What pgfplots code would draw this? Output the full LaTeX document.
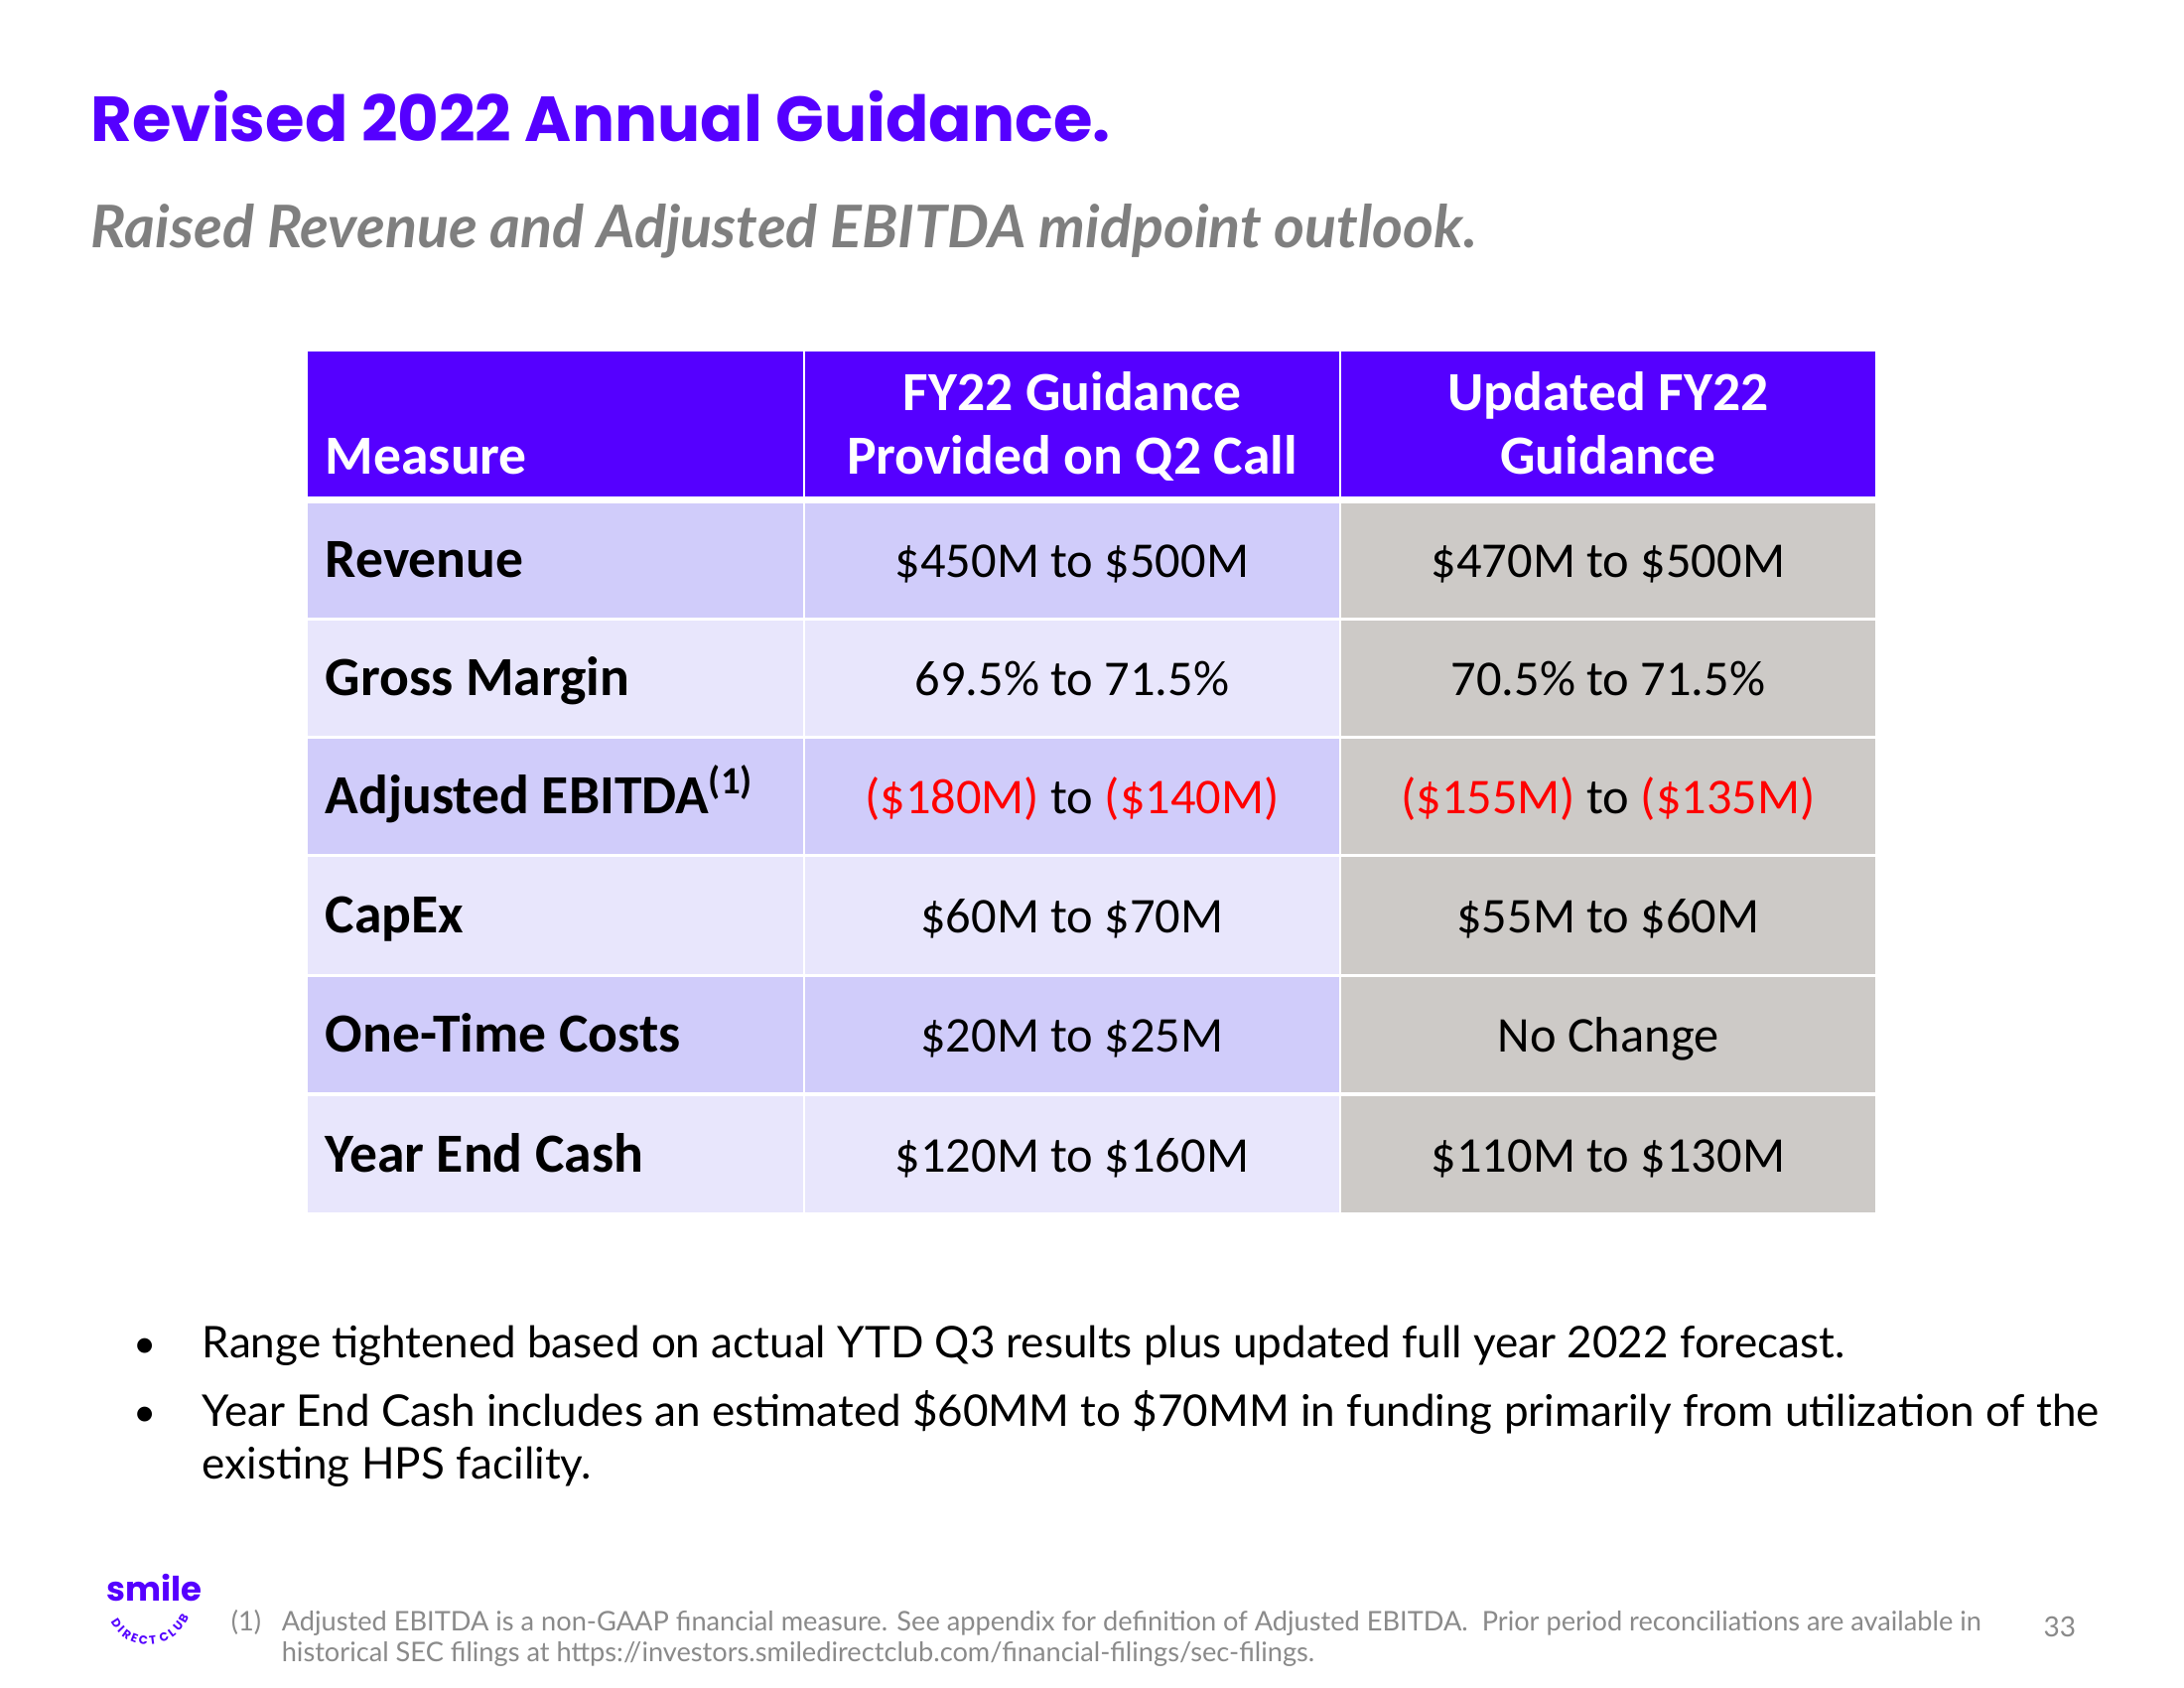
\documentclass[border=0pt]{standalone}
\usepackage{pgfplots}
\pgfplotsset{compat=1.18}
\usepackage{fontspec}
\setmainfont{Carlito}
\newfontfamily\poppins{Poppins}
\newfontfamily\lato{Lato}
\usetikzlibrary{decorations.text}
\definecolor{brand}{HTML}{5500FF}
\definecolor{rowA}{HTML}{D0CCFA}
\definecolor{rowB}{HTML}{E8E6FC}
\definecolor{greyc}{HTML}{CDCAC7}
\definecolor{subgrey}{HTML}{7F7F7F}
\definecolor{foot}{HTML}{8A8A8A}
\definecolor{redv}{HTML}{FF0000}
\begin{document}
\begin{tikzpicture}
\begin{axis}[scale only axis, width=550pt, height=425pt, xmin=0, xmax=2200, ymin=0, ymax=1700,
  y dir=reverse, hide axis, clip=false]
\fill[white] (axis cs:0,0) rectangle (axis cs:2200,1700);
% title
\node[anchor=base west, inner sep=0, text=brand] at (axis cs:91,143) {\poppins\bfseries\fontsize{16}{18}\selectfont Revised 2022 Annual Guidance.};
\node[anchor=base west, inner sep=0, text=subgrey] at (axis cs:91,250) {\lato\bfseries\itshape\fontsize{14.8}{17}\selectfont Raised Revenue and Adjusted EBITDA midpoint outlook.};
% header
\fill[brand] (axis cs:310,354) rectangle (axis cs:1889,500);
% rows
\fill[rowA] (axis cs:310,507) rectangle (axis cs:1350,622);
\fill[rowB] (axis cs:310,625) rectangle (axis cs:1350,741);
\fill[rowA] (axis cs:310,744) rectangle (axis cs:1350,860);
\fill[rowB] (axis cs:310,863) rectangle (axis cs:1350,981);
\fill[rowA] (axis cs:310,984) rectangle (axis cs:1350,1100);
\fill[rowB] (axis cs:310,1104) rectangle (axis cs:1350,1221);
\fill[greyc] (axis cs:1350,507) rectangle (axis cs:1889,622);
\fill[greyc] (axis cs:1350,625) rectangle (axis cs:1889,741);
\fill[greyc] (axis cs:1350,744) rectangle (axis cs:1889,860);
\fill[greyc] (axis cs:1350,863) rectangle (axis cs:1889,981);
\fill[greyc] (axis cs:1350,984) rectangle (axis cs:1889,1100);
\fill[greyc] (axis cs:1350,1104) rectangle (axis cs:1889,1221);
\draw[white, line width=0.7pt] (axis cs:810,354) -- (axis cs:810,1221);
\draw[white, line width=0.7pt] (axis cs:1350,354) -- (axis cs:1350,1221);
% header text
\node[anchor=base west, inner sep=0, text=white] at (axis cs:327,478) {\bfseries\fontsize{13.9}{17}\selectfont Measure};
\node[anchor=base, inner sep=0, text=white] at (axis cs:1080,414) {\bfseries\fontsize{13.9}{17}\selectfont FY22 Guidance};
\node[anchor=base, inner sep=0, text=white] at (axis cs:1080,478) {\bfseries\fontsize{13.9}{17}\selectfont Provided on Q2 Call};
\node[anchor=base, inner sep=0, text=white] at (axis cs:1620,414) {\bfseries\fontsize{13.9}{17}\selectfont Updated FY22};
\node[anchor=base, inner sep=0, text=white] at (axis cs:1620,478) {\bfseries\fontsize{13.9}{17}\selectfont Guidance};
% row labels
\node[anchor=base west, inner sep=0] at (axis cs:327,582) {\bfseries\fontsize{13.9}{17}\selectfont Revenue};
\node[anchor=base west, inner sep=0] at (axis cs:327,701) {\bfseries\fontsize{13.9}{17}\selectfont Gross Margin};
\node[anchor=base west, inner sep=0] at (axis cs:327,820) {\bfseries\fontsize{13.9}{17}\selectfont Adjusted EBITDA\textsuperscript{(1)}};
\node[anchor=base west, inner sep=0] at (axis cs:327,940) {\bfseries\fontsize{13.9}{17}\selectfont CapEx};
\node[anchor=base west, inner sep=0] at (axis cs:327,1060) {\bfseries\fontsize{13.9}{17}\selectfont One-Time Costs};
\node[anchor=base west, inner sep=0] at (axis cs:327,1181) {\bfseries\fontsize{13.9}{17}\selectfont Year End Cash};
% column 2
\node[anchor=base, inner sep=0] at (axis cs:1080,582) {\fontsize{12.6}{15}\selectfont \$450M to \$500M};
\node[anchor=base, inner sep=0] at (axis cs:1080,701) {\fontsize{12.6}{15}\selectfont 69.5\% to 71.5\%};
\node[anchor=base, inner sep=0] at (axis cs:1080,820) {\fontsize{12.6}{15}\selectfont \textcolor{redv}{(\$180M)} to \textcolor{redv}{(\$140M)}};
\node[anchor=base, inner sep=0] at (axis cs:1080,940) {\fontsize{12.6}{15}\selectfont \$60M to \$70M};
\node[anchor=base, inner sep=0] at (axis cs:1080,1060) {\fontsize{12.6}{15}\selectfont \$20M to \$25M};
\node[anchor=base, inner sep=0] at (axis cs:1080,1181) {\fontsize{12.6}{15}\selectfont \$120M to \$160M};
% column 3
\node[anchor=base, inner sep=0] at (axis cs:1620,582) {\fontsize{12.6}{15}\selectfont \$470M to \$500M};
\node[anchor=base, inner sep=0] at (axis cs:1620,701) {\fontsize{12.6}{15}\selectfont 70.5\% to 71.5\%};
\node[anchor=base, inner sep=0] at (axis cs:1620,820) {\fontsize{12.6}{15}\selectfont \textcolor{redv}{(\$155M)} to \textcolor{redv}{(\$135M)}};
\node[anchor=base, inner sep=0] at (axis cs:1620,940) {\fontsize{12.6}{15}\selectfont \$55M to \$60M};
\node[anchor=base, inner sep=0] at (axis cs:1620,1060) {\fontsize{12.6}{15}\selectfont No Change};
\node[anchor=base, inner sep=0] at (axis cs:1620,1181) {\fontsize{12.6}{15}\selectfont \$110M to \$130M};
% bullets
\node[anchor=base, inner sep=0] at (axis cs:146,1368) {\lato\fontsize{10}{13}\selectfont •};
\node[anchor=base, inner sep=0] at (axis cs:146,1437) {\lato\fontsize{10}{13}\selectfont •};
\node[anchor=base west, inner sep=0] at (axis cs:203,1368) {\lato\fontsize{11}{13}\selectfont Range tightened based on actual YTD Q3 results plus updated full year 2022 forecast.};
\node[anchor=base west, inner sep=0] at (axis cs:203,1437) {\lato\fontsize{11}{13}\selectfont Year End Cash includes an estimated \$60MM to \$70MM in funding primarily from utilization of the};
\node[anchor=base west, inner sep=0] at (axis cs:203,1490) {\lato\fontsize{11}{13}\selectfont existing HPS facility.};
% footnote
\node[anchor=base west, inner sep=0, text=foot] at (axis cs:232,1642) {\lato\fontsize{6.8}{9}\selectfont (1)};
\node[anchor=base west, inner sep=0, text=foot] at (axis cs:283,1642) {\lato\fontsize{6.8}{9}\selectfont Adjusted EBITDA is a non-GAAP financial measure. See appendix for definition of Adjusted EBITDA.\ \ Prior period reconciliations are available in};
\node[anchor=base west, inner sep=0, text=foot] at (axis cs:283,1674) {\lato\fontsize{6.8}{9}\selectfont historical SEC filings at https://investors.smiledirectclub.com/financial-filings/sec-filings.};
\node[anchor=base east, inner sep=0, text=foot] at (axis cs:2092,1649) {\lato\fontsize{7}{9}\selectfont 33};
% logo
\node[anchor=base west, inner sep=0, text=brand] at (axis cs:107,1612) {\poppins\bfseries\fontsize{8.5}{10}\selectfont smile};
\path[decorate, decoration={text along path, text align=center, text={|\poppins\bfseries\fontsize{3}{4}\selectfont\color{brand}|D I R E C T\ \ C L U B}}]
  (axis cs:108,1625) .. controls (axis cs:122,1668) and (axis cs:178,1668) .. (axis cs:194,1620);
\end{axis}
\end{tikzpicture}
\end{document}
